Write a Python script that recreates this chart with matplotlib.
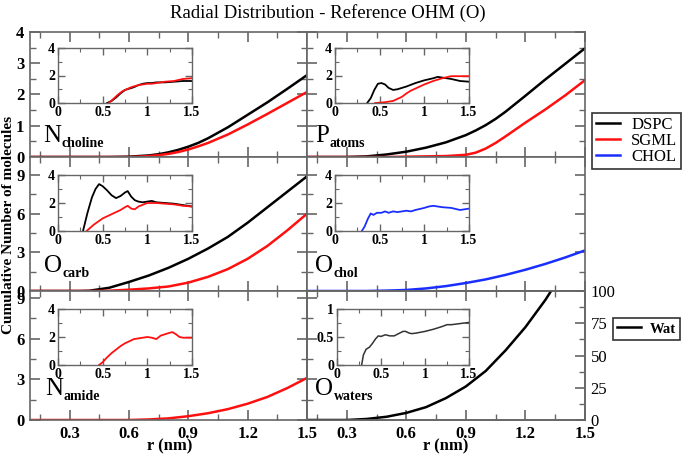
import matplotlib.pyplot as plt
from matplotlib.ticker import MultipleLocator, FuncFormatter
from matplotlib.lines import Line2D

plt.rcParams['font.family'] = ['Liberation Serif', 'DejaVu Serif']
plt.rcParams['font.weight'] = 'bold'

BLACK = 'black'
RED = '#ff1010'
BLUE = '#1a2fff'
GREY = '#666666'

# main panels: cumulative number vs r (nm)
ncho_r = [0.1, 0.5, 0.6, 0.65, 0.7, 0.75, 0.8, 0.85, 0.9, 0.95, 1.0, 1.1, 1.2, 1.3, 1.4, 1.5]
ncho_dspc = [0, 0, 0.01, 0.03, 0.05, 0.09, 0.15, 0.23, 0.33, 0.45, 0.6, 0.95, 1.35, 1.75, 2.18, 2.62]
ncho_sgml = [0, 0, 0, 0.01, 0.03, 0.06, 0.1, 0.16, 0.24, 0.34, 0.45, 0.72, 1.04, 1.38, 1.73, 2.08]

patm_r = [0.1, 0.3, 0.4, 0.5, 0.6, 0.7, 0.8, 0.9, 0.95, 1.0, 1.05, 1.1, 1.2, 1.3, 1.4, 1.5]
patm_dspc = [0, 0, 0.02, 0.08, 0.17, 0.3, 0.47, 0.7, 0.85, 1.02, 1.22, 1.45, 1.96, 2.48, 2.98, 3.48]
patm_sgml = [0, 0, 0, 0, 0.01, 0.02, 0.03, 0.07, 0.14, 0.27, 0.45, 0.66, 1.1, 1.52, 1.97, 2.46]

ocarb_r = [0.1, 0.35, 0.4, 0.5, 0.6, 0.7, 0.8, 0.9, 1.0, 1.1, 1.2, 1.3, 1.4, 1.5]
ocarb_dspc = [0, 0, 0.02, 0.25, 0.7, 1.2, 1.8, 2.5, 3.3, 4.2, 5.3, 6.5, 7.7, 8.9]
ocarb_sgml = [0, 0, 0, 0.02, 0.1, 0.2, 0.35, 0.65, 1.1, 1.7, 2.5, 3.5, 4.7, 6.0]

ochol_r = [0.1, 0.4, 0.5, 0.6, 0.7, 0.8, 0.9, 1.0, 1.1, 1.2, 1.3, 1.4, 1.5]
ochol_chol = [0, 0, 0.03, 0.08, 0.2, 0.38, 0.62, 0.9, 1.25, 1.65, 2.1, 2.6, 3.15]

nami_r = [0.1, 0.6, 0.7, 0.8, 0.9, 1.0, 1.1, 1.2, 1.3, 1.4, 1.5]
nami_sgml = [0, 0, 0.04, 0.12, 0.28, 0.5, 0.8, 1.2, 1.7, 2.35, 3.1]

owat_r = [0.1, 0.3, 0.4, 0.5, 0.6, 0.7, 0.8, 0.9, 1.0, 1.1, 1.2, 1.3, 1.35]
owat_wat = [0, 0, 0.8, 2.5, 5.5, 10, 17, 26, 38, 54, 72, 93, 105]

# insets: g(r)
in_ncho_r1 = [0.55, 0.6, 0.65, 0.7, 0.75, 0.8, 0.85, 0.9, 0.95, 1.0, 1.05, 1.1, 1.2, 1.3, 1.4, 1.5]
in_ncho_dspc = [0, 0.15, 0.4, 0.7, 0.95, 1.05, 1.15, 1.3, 1.4, 1.45, 1.45, 1.5, 1.5, 1.55, 1.6, 1.6]
in_ncho_r2 = [0.57, 0.62, 0.67, 0.72, 0.77, 0.82, 0.9, 0.95, 1.0, 1.05, 1.1, 1.2, 1.3, 1.4, 1.5]
in_ncho_sgml = [0, 0.3, 0.6, 0.85, 1.0, 1.15, 1.3, 1.35, 1.4, 1.4, 1.45, 1.55, 1.6, 1.75, 1.8]

in_patm_r1 = [0.36, 0.4, 0.44, 0.48, 0.52, 0.56, 0.6, 0.65, 0.7, 0.75, 0.8, 0.9, 1.0, 1.1,
              1.15, 1.2, 1.3, 1.4, 1.5]
in_patm_dspc = [0, 0.35, 0.95, 1.4, 1.45, 1.35, 1.1, 0.95, 1.0, 1.1, 1.2, 1.45, 1.65, 1.8,
                1.9, 1.85, 1.75, 1.6, 1.55]
in_patm_r2 = [0.45, 0.55, 0.65, 0.75, 0.8, 0.85, 0.9, 1.0, 1.1, 1.2, 1.3, 1.4, 1.5]
in_patm_sgml = [0, 0.05, 0.15, 0.45, 0.7, 0.9, 1.05, 1.35, 1.6, 1.8, 1.95, 1.95, 1.95]

in_ocarb_r1 = [0.28, 0.33, 0.38, 0.42, 0.46, 0.5, 0.55, 0.6, 0.65, 0.7, 0.75, 0.78, 0.82,
               0.86, 0.9, 0.95, 1.0, 1.05, 1.1, 1.2, 1.3, 1.4, 1.5]
in_ocarb_dspc = [0, 1.3, 2.4, 3.0, 3.35, 3.2, 2.9, 2.55, 2.35, 2.5, 2.75, 2.85, 2.45,
                 2.2, 2.1, 2.05, 2.1, 2.15, 2.05, 2.0, 1.95, 1.85, 1.75]
in_ocarb_r2 = [0.32, 0.4, 0.5, 0.6, 0.7, 0.75, 0.78, 0.82, 0.86, 0.9, 1.0, 1.1, 1.2, 1.3, 1.4, 1.5]
in_ocarb_sgml = [0, 0.45, 0.9, 1.2, 1.5, 1.7, 1.8, 1.6, 1.55, 1.75, 2.0, 2.0, 1.95, 1.9, 1.8, 1.75]

in_ochol_r = [0.3, 0.33, 0.37, 0.4, 0.43, 0.47, 0.52, 0.56, 0.6, 0.65, 0.7, 0.8, 0.85, 0.9,
              1.0, 1.05, 1.1, 1.15, 1.2, 1.3, 1.4, 1.45, 1.5]
in_ochol_chol = [0, 0.3, 0.9, 1.25, 1.15, 1.3, 1.3, 1.4, 1.3, 1.4, 1.35, 1.45, 1.4, 1.5,
                 1.65, 1.75, 1.8, 1.75, 1.7, 1.65, 1.5, 1.55, 1.6]

in_nami_r = [0.46, 0.5, 0.55, 0.6, 0.65, 0.7, 0.75, 0.8, 0.85, 0.9, 0.95, 1.0, 1.05, 1.1,
             1.15, 1.2, 1.25, 1.28, 1.32, 1.36, 1.4, 1.5]
in_nami_sgml = [0, 0.2, 0.55, 0.85, 1.1, 1.35, 1.55, 1.7, 1.85, 1.9, 1.95, 2.0, 1.95, 1.85,
                2.1, 2.2, 2.3, 2.35, 2.2, 2.0, 1.95, 1.95]

in_owat_r = [0.28, 0.3, 0.33, 0.37, 0.4, 0.44, 0.47, 0.5, 0.55, 0.6, 0.65, 0.7, 0.75, 0.78,
             0.82, 0.85, 0.9, 1.0, 1.1, 1.2, 1.25, 1.3, 1.4, 1.5]
in_owat_wat = [0, 0.18, 0.28, 0.32, 0.38, 0.47, 0.52, 0.51, 0.54, 0.52, 0.52, 0.56, 0.6, 0.6,
               0.57, 0.56, 0.57, 0.6, 0.64, 0.69, 0.72, 0.72, 0.74, 0.76]

panel_letters = ['N', 'P', 'O', 'O', 'N', 'O']
panel_subs = ['choline', 'atoms', 'carb', 'chol', 'amide', 'waters']

W, H = 687, 457
fig = plt.figure(figsize=(W / 100, H / 100), dpi=100)
fmt = FuncFormatter(lambda v, p: '%g' % round(v, 3))


def px(x0, y0, x1, y1):
    return [x0 / W, 1 - y1 / H, (x1 - x0) / W, (y1 - y0) / H]


def main_axes(rect, ytop, ymaj, left_labels, bottom_labels):
    ax = fig.add_axes(rect)
    ax.set_xlim(0.1, 1.5)
    ax.set_ylim(0, ytop)
    ax.xaxis.set_major_locator(MultipleLocator(0.3))
    ax.xaxis.set_minor_locator(MultipleLocator(0.15))
    ax.yaxis.set_major_locator(MultipleLocator(ymaj))
    ax.yaxis.set_minor_locator(MultipleLocator(ymaj / 2))
    ax.xaxis.set_major_formatter(fmt)
    ax.yaxis.set_major_formatter(fmt)
    ax.tick_params(which='both', direction='in', top=True, right=True, color=GREY,
                   labelsize=12, labelleft=left_labels, labelbottom=bottom_labels, pad=4)
    ax.tick_params(which='major', length=7, width=1.2)
    ax.tick_params(which='minor', length=4, width=1.0)
    for s in ax.spines.values():
        s.set_color(GREY)
        s.set_linewidth(1.2)
    return ax


def inset_axes(rect, ytop, ymaj):
    ax = fig.add_axes(rect)
    ax.set_xlim(0, 1.5)
    ax.set_ylim(0, ytop)
    ax.xaxis.set_major_locator(MultipleLocator(0.5))
    ax.xaxis.set_minor_locator(MultipleLocator(0.25))
    ax.yaxis.set_major_locator(MultipleLocator(ymaj))
    ax.yaxis.set_minor_locator(MultipleLocator(ymaj / 2))
    ax.xaxis.set_major_formatter(fmt)
    ax.yaxis.set_major_formatter(fmt)
    ax.tick_params(which='both', direction='in', top=True, right=True, color=GREY,
                   labelsize=10, pad=2)
    ax.tick_params(which='major', length=5, width=1.0)
    ax.tick_params(which='minor', length=3, width=0.8)
    for s in ax.spines.values():
        s.set_color(GREY)
        s.set_linewidth(1.0)
    return ax


# main panels
ax1 = main_axes(px(30, 32, 307, 157), 4, 1, True, False)
ax1.plot(ncho_r, ncho_dspc, color=BLACK, lw=1.8)
ax1.plot(ncho_r, ncho_sgml, color=RED, lw=1.8)

ax2 = main_axes(px(307, 32, 585, 157), 4, 1, False, False)
ax2.plot(patm_r, patm_dspc, color=BLACK, lw=1.8)
ax2.plot(patm_r, patm_sgml, color=RED, lw=1.8)

ax3 = main_axes(px(30, 157, 307, 291), 10.4, 3, True, False)
ax3.plot(ocarb_r, ocarb_dspc, color=BLACK, lw=1.8)
ax3.plot(ocarb_r, ocarb_sgml, color=RED, lw=1.8)

ax4 = main_axes(px(307, 157, 585, 291), 10.4, 3, False, False)
ax4.plot(ochol_r, ochol_chol, color=BLUE, lw=1.8)

ax5 = main_axes(px(30, 291, 307, 420), 9.5, 3, True, True)
ax5.plot(nami_r, nami_sgml, color=RED, lw=1.8)

ax6 = main_axes(px(307, 291, 585, 420), 9.5, 3, False, True)
ax6.tick_params(which='both', right=False)
ax6b = ax6.twinx()
ax6b.set_ylim(0, 100)
ax6b.yaxis.set_major_locator(MultipleLocator(25))
ax6b.yaxis.set_minor_locator(MultipleLocator(12.5))
ax6b.tick_params(which='both', direction='in', color=GREY, labelsize=12, pad=4)
ax6b.tick_params(which='major', length=7, width=1.2)
ax6b.tick_params(which='minor', length=4, width=1.0)
for lab in ax6b.get_yticklabels():
    lab.set_fontweight('normal')
for s in ax6b.spines.values():
    s.set_color(GREY)
    s.set_linewidth(1.2)
ax6b.plot(owat_r, owat_wat, color=BLACK, lw=1.8)

# insets
i1 = inset_axes(px(58, 48, 192, 103), 4, 2)
i1.plot(in_ncho_r1, in_ncho_dspc, color=BLACK, lw=1.3)
i1.plot(in_ncho_r2, in_ncho_sgml, color=RED, lw=1.3)

i2 = inset_axes(px(335, 48, 469, 103), 4, 2)
i2.plot(in_patm_r1, in_patm_dspc, color=BLACK, lw=1.3)
i2.plot(in_patm_r2, in_patm_sgml, color=RED, lw=1.3)

i3 = inset_axes(px(58, 175, 192, 231), 4, 2)
i3.plot(in_ocarb_r1, in_ocarb_dspc, color=BLACK, lw=1.3)
i3.plot(in_ocarb_r2, in_ocarb_sgml, color=RED, lw=1.3)

i4 = inset_axes(px(335, 175, 469, 231), 4, 2)
i4.plot(in_ochol_r, in_ochol_chol, color=BLUE, lw=1.3)

i5 = inset_axes(px(58, 309, 192, 365), 4, 2)
i5.plot(in_nami_r, in_nami_sgml, color=RED, lw=1.3)

i6 = inset_axes(px(337, 309, 469, 365), 1, 0.5)
i6.plot(in_owat_r, in_owat_wat, color='#333333', lw=1.1)

# panel labels: big letter with a small bold subscript
renderer = fig.canvas.get_renderer()
label_pos = [(43, 142), (315, 142), (44, 272), (315, 272), (45, 395), (315, 395)]
for (x, y), letter, sub in zip(label_pos, panel_letters, panel_subs):
    t = fig.text(x / W, 1 - y / H, letter, fontsize=18, fontweight='normal',
                 va='baseline', ha='left')
    bb = t.get_window_extent(renderer)
    fig.text((bb.x1 + 0.5) / W, 1 - (y + 5) / H, sub, fontsize=10, fontweight='bold',
             va='baseline', ha='left')

fig.text(0.477, 1 - 13 / H, 'Radial Distribution - Reference OHM (O)', fontsize=13.5,
         fontweight='normal', ha='center', va='center')
fig.text(9 / W, 1 - 225 / H, 'Cumulative Number of molecules', rotation=90, fontsize=11,
         ha='center', va='center')
fig.text(170 / W, 1 - 446 / H, 'r (nm)', fontsize=12, ha='center', va='center')
fig.text(446 / W, 1 - 446 / H, 'r (nm)', fontsize=12, ha='center', va='center')

h1 = [Line2D([], [], color=c, lw=1.8) for c in (BLACK, RED, BLUE)]
leg1 = fig.legend(h1, ['DSPC', 'SGML', 'CHOL'], loc='upper left',
                  bbox_to_anchor=(592 / W, 1 - 113 / H), borderaxespad=0, fancybox=False,
                  edgecolor='#333333', framealpha=1, handlelength=1.4,
                  labelspacing=0.0, borderpad=0.25, handletextpad=0.7,
                  prop={'weight': 'normal', 'size': 12})
leg1.get_frame().set_linewidth(1.2)
leg2 = fig.legend([Line2D([], [], color=BLACK, lw=1.8)], ['Wat'], loc='upper left',
                  bbox_to_anchor=(613 / W, 1 - 318 / H), borderaxespad=0, fancybox=False,
                  edgecolor='#333333', framealpha=1, handlelength=1.6,
                  borderpad=0.3, handletextpad=0.6, prop={'weight': 'bold', 'size': 10.5})
leg2.get_frame().set_linewidth(1.2)

plt.savefig('out.png', dpi=100)
